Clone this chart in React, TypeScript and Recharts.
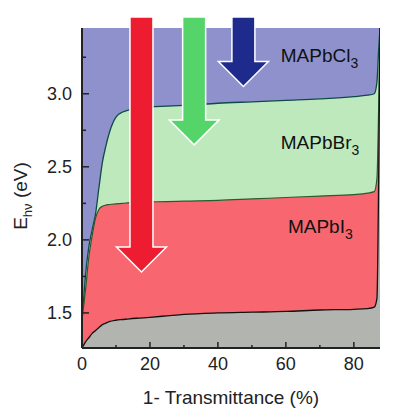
import React from 'react';
import {
  AreaChart,
  Area,
  XAxis,
  YAxis,
  CartesianGrid,
  ReferenceDot,
} from 'recharts';

const transmittance = [0, 0.5, 1, 2, 3, 4, 5, 6, 7, 8, 10, 12, 14, 17, 20, 25, 30, 40, 50, 60, 70, 80, 84, 86, 86.8, 87.3, 87.7];
const bromideEdge = [1.45, 1.6, 1.75, 1.95, 2.07, 2.18, 2.36, 2.53, 2.64, 2.73, 2.84, 2.875, 2.89, 2.9, 2.91, 2.915, 2.92, 2.935, 2.945, 2.955, 2.965, 2.98, 2.99, 3.0, 3.08, 3.3, 3.45];
const iodideEdge = [1.45, 1.55, 1.65, 1.88, 2.03, 2.15, 2.21, 2.23, 2.238, 2.242, 2.247, 2.25, 2.255, 2.258, 2.26, 2.262, 2.265, 2.27, 2.28, 2.29, 2.3, 2.31, 2.32, 2.33, 2.42, 2.9, 3.45];
const substrateEdge = [1.26, 1.28, 1.3, 1.33, 1.36, 1.38, 1.4, 1.42, 1.43, 1.44, 1.45, 1.455, 1.46, 1.465, 1.47, 1.48, 1.49, 1.5, 1.505, 1.51, 1.52, 1.525, 1.53, 1.54, 1.6, 2.4, 3.45];

const xTicks = [0, 10, 20, 30, 40, 50, 60, 70, 80];
const xLabeled = [0, 20, 40, 60, 80];
const yTicks = [1.5, 1.75, 2.0, 2.25, 2.5, 2.75, 3.0, 3.25];
const yLabeled = [1.5, 2.0, 2.5, 3.0];

const arrows = [
  { x: 17.5, tip: 1.78, color: '#ee1c30' },
  { x: 33, tip: 2.65, color: '#55d469' },
  { x: 47.5, tip: 3.05, color: '#1f2b8c' },
];

const compounds = [
  { name: 'MAPbCl', x: 58.5, y: 3.22 },
  { name: 'MAPbBr', x: 58.5, y: 2.62 },
  { name: 'MAPbI', x: 60.6, y: 2.05 },
];

const data = transmittance.map((t, i) => ({
  t,
  br: bromideEdge[i],
  i: iodideEdge[i],
  sub: substrateEdge[i],
}));

const FONT = '"Liberation Sans", Arial, sans-serif';
const INK = '#222';

const YTick = (props: any) => {
  const { x, y, payload } = props;
  const major = yLabeled.includes(payload.value);
  return (
    <g>
      <line x1={x} x2={x + (major ? 7 : 4)} y1={y} y2={y} stroke={INK} strokeWidth={1.5} />
      {major && (
        <text x={x - 10} y={y} textAnchor="end" dominantBaseline="central" fontSize={18} fontFamily={FONT} fill={INK}>
          {payload.value.toFixed(1)}
        </text>
      )}
    </g>
  );
};

const XTick = (props: any) => {
  const { x, y, payload } = props;
  const major = xLabeled.includes(payload.value);
  return (
    <g>
      <line x1={x} x2={x} y1={y} y2={y - (major ? 6 : 3)} stroke={INK} strokeWidth={1.5} />
      {major && (
        <text x={x} y={y + 22} textAnchor="middle" fontSize={18} fontFamily={FONT} fill={INK}>
          {payload.value}
        </text>
      )}
    </g>
  );
};

const arrowShape = (color: string) => (props: any) => {
  const { cx, cy } = props;
  const top = 17;
  const shaft = 11.5;
  const head = 25;
  const headH = 25;
  const pts = [
    [cx - shaft, top],
    [cx + shaft, top],
    [cx + shaft, cy - headH],
    [cx + head, cy - headH],
    [cx, cy],
    [cx - head, cy - headH],
    [cx - shaft, cy - headH],
  ]
    .map((p) => p.join(','))
    .join(' ');
  return <polygon points={pts} fill={color} stroke="#fff" strokeWidth={1.5} strokeLinejoin="miter" />;
};

const compoundLabel = (name: string) => (props: any) => {
  const { cx, cy } = props;
  return (
    <text x={cx} y={cy} fontSize={19} fontFamily={FONT} fill="#111">
      {name}
      <tspan fontSize={14} dy={6}>3</tspan>
    </text>
  );
};

export default function App() {
  return (
    <div style={{ position: 'absolute', left: 0, top: 0, background: '#fff' }}>
      <AreaChart width={399} height={413} data={data} margin={{ top: 28, right: 19, bottom: 0, left: 0 }}>
        <CartesianGrid fill="#8e91cb" stroke="none" horizontal={false} vertical={false} />
        <XAxis
          dataKey="t"
          type="number"
          domain={[0, 87.7]}
          allowDataOverflow
          ticks={xTicks}
          interval={0}
          tickSize={0}
          tickMargin={0}
          tickLine={false}
          tick={<XTick />}
          height={65}
          axisLine={{ stroke: INK, strokeWidth: 2 }}
          label={{ value: '1- Transmittance (%)', position: 'insideBottom', offset: 9, fontSize: 19, fontFamily: FONT, fill: INK }}
        />
        <XAxis xAxisId="top" orientation="top" dataKey="t" type="number" domain={[0, 87.7]} height={0} tick={false} tickLine={false} axisLine={{ stroke: INK, strokeWidth: 2 }} />
        <YAxis
          type="number"
          domain={[1.26, 3.45]}
          allowDataOverflow
          ticks={yTicks}
          interval={0}
          tickSize={0}
          tickMargin={0}
          tickLine={false}
          tick={<YTick />}
          width={82}
          axisLine={{ stroke: INK, strokeWidth: 2 }}
          label={(props: any) => {
            const vb = props.viewBox;
            const cx = 27;
            const cy = vb.y + vb.height / 2 + 8;
            return (
              <text x={cx} y={cy} transform={`rotate(-90 ${cx} ${cy})`} textAnchor="middle" fontSize={19} fontFamily={FONT} fill={INK}>
                E<tspan fontSize={13} dy={5}>hν</tspan>
                <tspan dy={-5}> (eV)</tspan>
              </text>
            );
          }}
        />
        <YAxis yAxisId="right" orientation="right" type="number" domain={[1.26, 3.45]} width={0} tick={false} tickLine={false} axisLine={{ stroke: INK, strokeWidth: 2 }} />
        <Area type="monotone" dataKey="br" fill="#bde9bd" fillOpacity={1} stroke="#0f4a48" strokeWidth={1.3} isAnimationActive={false} />
        <Area type="monotone" dataKey="i" fill="#f8676f" fillOpacity={1} stroke="#2a5a2e" strokeWidth={1.2} isAnimationActive={false} />
        <Area type="monotone" dataKey="sub" fill="#b1b4af" fillOpacity={1} stroke="#111" strokeWidth={1.3} isAnimationActive={false} />
        {compounds.map((c) => (
          <ReferenceDot key={c.name} x={c.x} y={c.y} r={0} ifOverflow="visible" shape={compoundLabel(c.name)} />
        ))}
        {arrows.map((a) => (
          <ReferenceDot key={a.color} x={a.x} y={a.tip} r={0} ifOverflow="visible" shape={arrowShape(a.color)} />
        ))}
      </AreaChart>
    </div>
  );
}
